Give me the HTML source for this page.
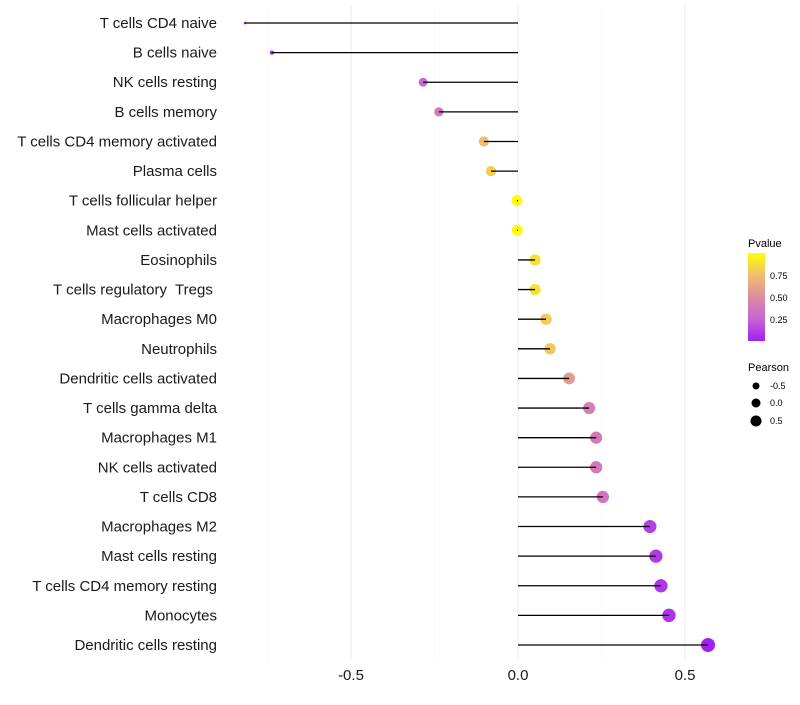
<!DOCTYPE html>
<html><head><meta charset="utf-8"><style>
body{margin:0;background:#fff;font-family:"Liberation Sans",sans-serif;}
</style></head><body>
<svg id="c" width="800" height="700" xmlns="http://www.w3.org/2000/svg">
<defs><linearGradient id="pg" x1="0" y1="1" x2="0" y2="0">
<stop offset="0" stop-color="rgb(160,32,240)"/><stop offset="0.25" stop-color="rgb(200,100,210)"/><stop offset="0.5" stop-color="rgb(220,140,160)"/><stop offset="0.75" stop-color="rgb(240,190,110)"/><stop offset="1" stop-color="rgb(255,255,0)"/>
</linearGradient></defs>
<g id="grid"></g><g id="points"></g><g id="stems"></g><g id="labels"></g>
<g>
<text x="748" y="247" font-size="11" fill="#000">Pvalue</text>
<rect x="748" y="253" width="17" height="88" fill="url(#pg)"/>
<text x="770" y="279" font-size="9">0.75</text>
<text x="770" y="301" font-size="9">0.50</text>
<text x="770" y="323" font-size="9">0.25</text>
</g>
<g>
<text x="748" y="371" font-size="11">Pearson</text>
<circle cx="756" cy="386" r="3.5" fill="#000"/><text x="770" y="389" font-size="9">-0.5</text>
<circle cx="756" cy="403" r="4.5" fill="#000"/><text x="770" y="406" font-size="9">0.0</text>
<circle cx="756" cy="421" r="5.5" fill="#000"/><text x="770" y="424" font-size="9">0.5</text>
</g>
</svg>
<script>
const categories=["T cells CD4 naive","B cells naive","NK cells resting","B cells memory","T cells CD4 memory activated","Plasma cells","T cells follicular helper","Mast cells activated","Eosinophils","T cells regulatory  Tregs ","Macrophages M0","Neutrophils","Dendritic cells activated","T cells gamma delta","Macrophages M1","NK cells activated","T cells CD8","Macrophages M2","Mast cells resting","T cells CD4 memory resting","Monocytes","Dendritic cells resting"];
const pearson=[-0.817,-0.737,-0.284,-0.237,-0.102,-0.081,-0.003,-0.002,0.051,0.051,0.084,0.096,0.153,0.213,0.234,0.234,0.254,0.395,0.413,0.428,0.452,0.569];
const pvalue=[0.02,0.02,0.28,0.38,0.74,0.82,0.99,0.99,0.88,0.88,0.8,0.78,0.58,0.42,0.38,0.38,0.35,0.12,0.1,0.09,0.07,0.005];
const xTicks=[-0.5,0,0.5];
const xTickLabels=["-0.5","0.0","0.5"];
const NS="http://www.w3.org/2000/svg";
const xs=v=>518+v*334;
const ys=i=>23+i*(622/21);
const stops=[[160,32,240],[200,100,210],[220,140,160],[240,190,110],[255,255,0]];
function col(p){const s=Math.min(p*4,3.9999),k=Math.floor(s),t=s-k;const a=stops[k],b=stops[k+1];
 return 'rgb('+a.map((v,j)=>Math.round(v+(b[j]-v)*t)).join(',')+')';}
function el(t,a,parent){const e=document.createElementNS(NS,t);for(const k in a)e.setAttribute(k,a[k]);parent.appendChild(e);return e;}
const grid=document.getElementById('grid'),points=document.getElementById('points'),stems=document.getElementById('stems'),labels=document.getElementById('labels');
[-0.75,-0.25,0.25].forEach(v=>{const l=el('line',{x1:xs(v),x2:xs(v),y1:5,y2:660,stroke:'#f7f7f7','stroke-width':0.6},grid);

});
xTicks.forEach((v,i)=>{const l=el('line',{x1:xs(v),x2:xs(v),y1:5,y2:660,stroke:'#ebebeb','stroke-width':1},grid);


const t=el('text',{x:xs(v),y:680,'font-size':15,'text-anchor':'middle',fill:'#1a1a1a'},labels);t.textContent=xTickLabels[i];

});
categories.forEach((c,i)=>{const y=ys(i);
const t=el('text',{x:217,y:y+5,'font-size':15,'text-anchor':'end',fill:'#1a1a1a'},labels);t.textContent=c;
t.style.whiteSpace='pre';


const r=Math.sqrt(Math.max(29.6+34*pearson[i],1.5));
const d=el('circle',{cx:xs(pearson[i]),cy:y,r:r,fill:col(pvalue[i])},points);


const l=el('line',{x1:xs(0),x2:xs(pearson[i]),y1:y,y2:y,stroke:'#000','stroke-width':1.3},stems);


});
</script>
</body></html>
